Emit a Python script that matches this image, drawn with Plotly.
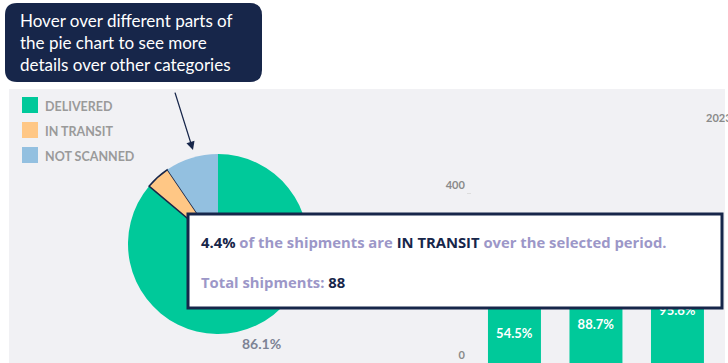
import plotly.graph_objects as go
import math

W, H = 728, 363

# ---- data ----
pie_labels = ["DELIVERED", "IN TRANSIT", "NOT SCANNED"]
pie_values = [86.1, 4.4, 9.5]
pie_colors = ["#00C99A", "#FFC785", "#93C0E0"]

bar_categories = ["A", "B", "C"]
bar_delivered = [142, 183, 249]
bar_pct_labels = ["54.5%", "88.7%", "95.6%"]
bar_year = "2023"

y_ticks = [0, 400]

callout_text = "Hover over different parts of<br>the pie chart to see more<br>details over other categories"
tooltip_pct = "4.4%"
tooltip_cat = "IN TRANSIT"
tooltip_total = "88"

NAVY = "#17264A"
PANEL = "#F1F1F4"
LAV = "#9C97C8"
FONT = "Lato"
TFONT = "Open Sans"


def px(x):
    return x / W


def py(y):
    return 1 - y / H


fig = go.Figure()

# pie
fig.add_trace(go.Pie(
    labels=pie_labels, values=pie_values, sort=False, direction="clockwise",
    rotation=0, textinfo="none", showlegend=False,
    marker=dict(colors=pie_colors, line=dict(color=[NAVY, NAVY, NAVY], width=[0, 1.5, 0])),
    domain=dict(x=[px(128), px(308)], y=[py(334), py(154)]),
    hoverinfo="skip",
))

# bars
fig.add_trace(go.Bar(
    x=bar_categories, y=bar_delivered, width=0.65, marker=dict(color="#00C99A", line=dict(width=0)),
    text=bar_pct_labels, textposition="inside", insidetextanchor="middle",
    textfont=dict(family=FONT, size=13, color="white", weight="bold"),
    showlegend=False, hoverinfo="skip",
))

shapes = []
# grey panel
shapes.append(dict(type="rect", xref="paper", yref="paper", layer="below",
                   x0=px(9), x1=px(725), y0=py(363), y1=py(89),
                   fillcolor=PANEL, line=dict(width=0)))

# legend squares + labels (manual)
annotations = []
for i, (lab, col) in enumerate(zip(pie_labels, pie_colors)):
    cy = 105 + 25 * i
    shapes.append(dict(type="rect", xref="paper", yref="paper", layer="above",
                       x0=px(22), x1=px(38), y0=py(cy + 8), y1=py(cy - 8),
                       fillcolor=col, line=dict(width=0)))
    annotations.append(dict(xref="paper", yref="paper", x=px(43), y=py(cy + 1), xanchor="left",
                            yanchor="middle", showarrow=False, text=lab,
                            font=dict(family=FONT, size=12.5, color="#9A9A9A", weight="bold")))

# callout rounded box
x0, x1, y0, y1, r = 5, 262, 3, 82, 12


def P(x, y):
    return f"{px(x):.5f},{py(y):.5f}"


path = (f"M {P(x0 + r, y0)} L {P(x1 - r, y0)} Q {P(x1, y0)} {P(x1, y0 + r)} "
        f"L {P(x1, y1 - r)} Q {P(x1, y1)} {P(x1 - r, y1)} L {P(x0 + r, y1)} "
        f"Q {P(x0, y1)} {P(x0, y1 - r)} L {P(x0, y0 + r)} Q {P(x0, y0)} {P(x0 + r, y0)} Z")
shapes.append(dict(type="path", xref="paper", yref="paper", layer="above", path=path,
                   fillcolor=NAVY, line=dict(width=0)))

# tooltip box
shapes.append(dict(type="rect", xref="paper", yref="paper", layer="above",
                   x0=px(188), x1=px(722), y0=py(308), y1=py(214),
                   fillcolor="white", line=dict(color=NAVY, width=3)))

annotations.append(dict(xref="paper", yref="paper", x=px(18), y=py(43), xanchor="left",
                        yanchor="middle", align="left", showarrow=False, text=callout_text,
                        font=dict(family=FONT, size=17, color="white")))

# arrow
annotations.append(dict(xref="paper", yref="paper", x=px(193), y=py(150), text=" ",
                        showarrow=True, axref="pixel", ayref="pixel", ax=-21, ay=-67,
                        arrowhead=2, arrowsize=1.3, arrowwidth=1.3, arrowcolor=NAVY, standoff=0))

# tooltip text
annotations.append(dict(
    xref="paper", yref="paper", x=px(199), y=py(242), xanchor="left", yanchor="middle",
    showarrow=False,
    text=(f"<span style='color:{NAVY}'>{tooltip_pct}</span> of the shipments are "
          f"<span style='color:{NAVY}'>{tooltip_cat}</span> over the selected period."),
    font=dict(family=TFONT, size=14.8, color=LAV, weight="bold")))
annotations.append(dict(
    xref="paper", yref="paper", x=px(199), y=py(282), xanchor="left", yanchor="middle",
    showarrow=False,
    text=f"Total shipments: <span style='color:{NAVY}'>{tooltip_total}</span>",
    font=dict(family=TFONT, size=14.8, color=LAV, weight="bold")))

# pie outside label for delivered slice
cx, cy, rad = 218, 244, 90
mid = math.radians(360 * (pie_values[0] / 2) / sum(pie_values))
lx = cx + (rad + 20) * math.sin(mid)
ly = cy - (rad + 20) * math.cos(mid)
annotations.append(dict(xref="paper", yref="paper", x=px(lx - 3), y=py(ly), showarrow=False,
                        xanchor="center", yanchor="middle",
                        text=f"{pie_values[0]}%",
                        font=dict(family=FONT, size=14, color="#7D8394", weight="bold")))

# year label (cut off at right)
annotations.append(dict(xref="paper", yref="paper", x=px(704), y=py(118), xanchor="left",
                        yanchor="middle", showarrow=False, text=bar_year,
                        font=dict(family=FONT, size=11, color="#8A8A8A", weight="bold")))

ymax = (363 - 89) / 0.425
fig.update_layout(
    width=W, height=H, margin=dict(l=0, r=0, t=0, b=0),
    paper_bgcolor="white", plot_bgcolor="rgba(0,0,0,0)",
    shapes=shapes, annotations=annotations, hovermode=False, showlegend=False,
    xaxis=dict(domain=[px(472), 1], range=[-0.521, 2.62], showticklabels=False,
               showgrid=False, zeroline=False, showline=False, ticks=""),
    yaxis=dict(domain=[0, py(89)], range=[0, ymax], tickvals=y_ticks, showgrid=False,
               zeroline=False, showline=False, ticks="outside", ticklen=4, tickcolor="#DDDDDD",
               ticklabelshift=-8, ticklabeloverflow="allow",
               tickfont=dict(family=FONT, size=11, color="#8A8A8A", weight="bold")),
    bargap=0.35,
)

fig.write_html("out.html", config={"displayModeBar": False},
               post_script="document.body.style.margin='0';document.body.style.overflow='hidden';")
